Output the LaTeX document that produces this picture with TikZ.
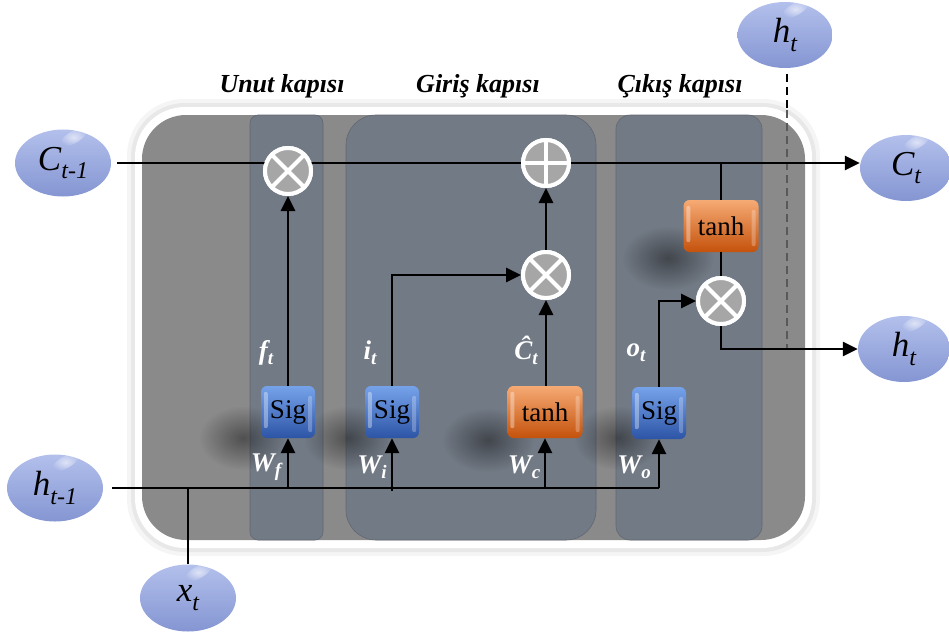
\documentclass[tikz,border=0pt]{standalone}
\usepackage{fontspec}
\setmainfont{Liberation Serif}
\usetikzlibrary{arrows.meta,shapes.geometric,fadings}
\tikzfading[name=softblob, inner color=transparent!0, outer color=transparent!100]
\definecolor{framegray}{HTML}{8A8A8A}
\definecolor{panel}{HTML}{727A85}
\definecolor{ellA}{HTML}{B3C0EC}
\definecolor{ellB}{HTML}{8495D2}
\definecolor{sigA}{HTML}{76A2EA}
\definecolor{sigB}{HTML}{2D54A6}
\definecolor{tanA}{HTML}{F6AA74}
\definecolor{tanB}{HTML}{C4520C}
\definecolor{opgray}{HTML}{A6A6A6}
\newcommand{\mysb}[1]{\raisebox{-0.25em}{\fontsize{24}{24}\selectfont #1}}
\newcommand{\mysbw}[1]{\raisebox{-0.18em}{\fontsize{19}{19}\selectfont #1}}
\tikzset{
 arr/.style={line width=2.8pt, -{Triangle[length=15pt,width=14pt]}},
 ln/.style={line width=2.8pt},
 var/.style={ellipse, minimum width=96pt, minimum height=67pt, inner sep=0pt, top color=ellA, bottom color=ellB, font=\fontsize{35}{35}\selectfont\itshape},
 sigbox/.style={rectangle, rounded corners=6pt, minimum width=54pt, minimum height=52pt, inner sep=0pt, top color=sigA, bottom color=sigB, font=\fontsize{27}{27}\selectfont},
 tanhbox/.style={sigbox, minimum width=75pt, top color=tanA, bottom color=tanB},
 op/.style={circle, minimum size=46pt, inner sep=0pt, fill=opgray, draw=white, line width=4pt},
 opline/.style={white, line width=4pt},
 gatelbl/.style={font=\fontsize{26}{26}\selectfont\bfseries\itshape},
 wlbl/.style={text=white, font=\fontsize{27}{27}\selectfont\bfseries\itshape, inner sep=0pt},
 panelbox/.style={fill=panel, draw=panel!85!black, line width=0.6pt},
 blob/.style={black, opacity=0.42, path fading=softblob},
 gloss/.style={white, opacity=0.6, path fading=softblob},
}
\begin{document}
\begin{tikzpicture}[x=1pt,y=-1pt]
\useasboundingbox (0,0) rectangle (949,635);
% frame
\fill[black!4, rounded corners=57pt] (127,99) rectangle (820,556);
\fill[black!9, rounded corners=54pt] (131,103) rectangle (816,552);
\fill[white, rounded corners=50pt] (135,107) rectangle (812,548);
\fill[framegray, rounded corners=44pt] (142,115) rectangle (805,540);
% panels
\filldraw[panelbox, rounded corners=8pt] (250,115) rectangle (323,540);
\filldraw[panelbox, rounded corners=30pt] (346,115) rectangle (596,540);
\filldraw[panelbox, rounded corners=14pt] (616,115) rectangle (762,540);
% shadows
\fill[blob] (243,438) ellipse (44pt and 32pt);
\fill[blob] (348,438) ellipse (44pt and 32pt);
\fill[blob] (488,440) ellipse (46pt and 32pt);
\fill[blob] (618,438) ellipse (44pt and 32pt);
\fill[blob] (668,258) ellipse (46pt and 32pt);
% titles
\node[gatelbl] (tu) at (282,86) {Unut kapısı};
\node[gatelbl] (tg) at (478,86) {Giriş kapısı};
\node[gatelbl] (tc) at (680,86) {Çıkış kapısı};
% variable nodes
\node[var] (cprev) at (63,163) {C\mysb{t-1}};
\node[var] (hprev) at (55,488) {h\mysb{t-1}};
\node[var] (xt) at (188,598) {x\mysb{t}};
\node[var, minimum width=95pt, minimum height=66pt] (htop) at (785,35) {h\mysb{t}};
\node[var, minimum width=92pt, minimum height=66pt] (cnext) at (906,168) {C\mysb{t}};
\node[var, minimum width=92pt, minimum height=66pt] (hnext) at (904,349) {h\mysb{t}};
\foreach \n in {cprev,hprev,xt,htop,cnext,hnext}
  \fill[gloss, rotate=30] ([shift={(22,-17)}]\n.center) ellipse (15pt and 6pt);
% boxes
\node[sigbox] (sigf) at (288,412) {Sig};
\node[sigbox] (sigi) at (392,412) {Sig};
\node[tanhbox] (tanhc) at (545,412) {tanh};
\node[sigbox] (sigo) at (659,413) {Sig};
\node[tanhbox] (tanho) at (721,226) {tanh};
% operators
\node[op] (fx) at (288,171) {};
\node[op] (plus) at (546,163) {};
\node[op] (ix) at (546,275) {};
\node[op] (ox) at (721,301) {};
% dashed h_t
\coordinate (dmid) at (787,110);
\coordinate (dend) at (787,350);
\draw[line width=2pt, dash pattern=on 8pt off 5pt, shorten <=6pt] (htop.south -| dmid) -- (dmid);
\draw[line width=2pt, dash pattern=on 8pt off 5pt, black!65] (dmid) -- (dend);
% connectors
\draw[arr, shorten <=6pt] (cprev.east) -- (cnext.west |- cprev.east);
\draw[ln, shorten <=9pt] (hprev.east) -- (sigo.south |- hprev.east);
\draw[ln] (xt.north) -- (xt.north |- hprev.east);
\draw[arr] (sigf.south |- hprev.east) -- (sigf.south);
\draw[arr] ([yshift=-3pt]sigi.south |- hprev.east) -- (sigi.south);
\draw[arr] (tanhc.south |- hprev.east) -- (tanhc.south);
\draw[arr] (sigo.south |- hprev.east) -- (sigo.south);
\draw[arr] (sigf.north) -- (fx.south);
\draw[arr] (sigi.north) |- (ix.west);
\draw[arr] (tanhc.north -| ix.south) -- (ix.south);
\draw[arr] (ix.north) -- (plus.south);
\draw[arr] (sigo.north) |- (ox.west);
\draw[ln] (tanho.south) -- (ox.north);
\draw[ln] (tanho.north) -- (tanho.north |- cprev.east) -- ++(17,0);
\draw[arr] (ox.south) |- (hnext.west);
% redraw operators on top
\node[op] (fx2) at (fx) {};
\node[op] (plus2) at (plus) {};
\node[op] (ix2) at (ix) {};
\node[op] (ox2) at (ox) {};
\foreach \n in {fx2,ix2,ox2} {
  \draw[opline] (\n.north east) -- (\n.south west);
  \draw[opline] (\n.north west) -- (\n.south east);
}
\draw[opline] (plus2.north) -- (plus2.south);
\draw[opline] (plus2.west) -- (plus2.east);
% gloss on boxes
\foreach \n in {sigf,sigi,tanhc,sigo,tanho} {
  \fill[white, opacity=0.35, rounded corners=2pt] ([shift={(3,6)}]\n.north west) rectangle ([shift={(7,-10)}]\n.south west);
  \fill[white, opacity=0.25, rounded corners=2pt] ([shift={(-7,10)}]\n.north east) rectangle ([shift={(-3,-6)}]\n.south east);
}
% labels
\node[wlbl] (lf) at (266,353) {f\mysbw{t}};
\node[wlbl] (li) at (370,353) {i\mysbw{t}};
\node[wlbl] (lc) at (526,350) {Ĉ\mysbw{t}};
\node[wlbl] (lo) at (636,353) {o\mysbw{t}};
\node[wlbl] (wf) at (266,467) {W\mysbw{f}};
\node[wlbl] (wi) at (372,467) {W\mysbw{i}};
\node[wlbl] (wc) at (524,467) {W\mysbw{c}};
\node[wlbl] (wo) at (634,467) {W\mysbw{o}};
\end{tikzpicture}
\end{document}
